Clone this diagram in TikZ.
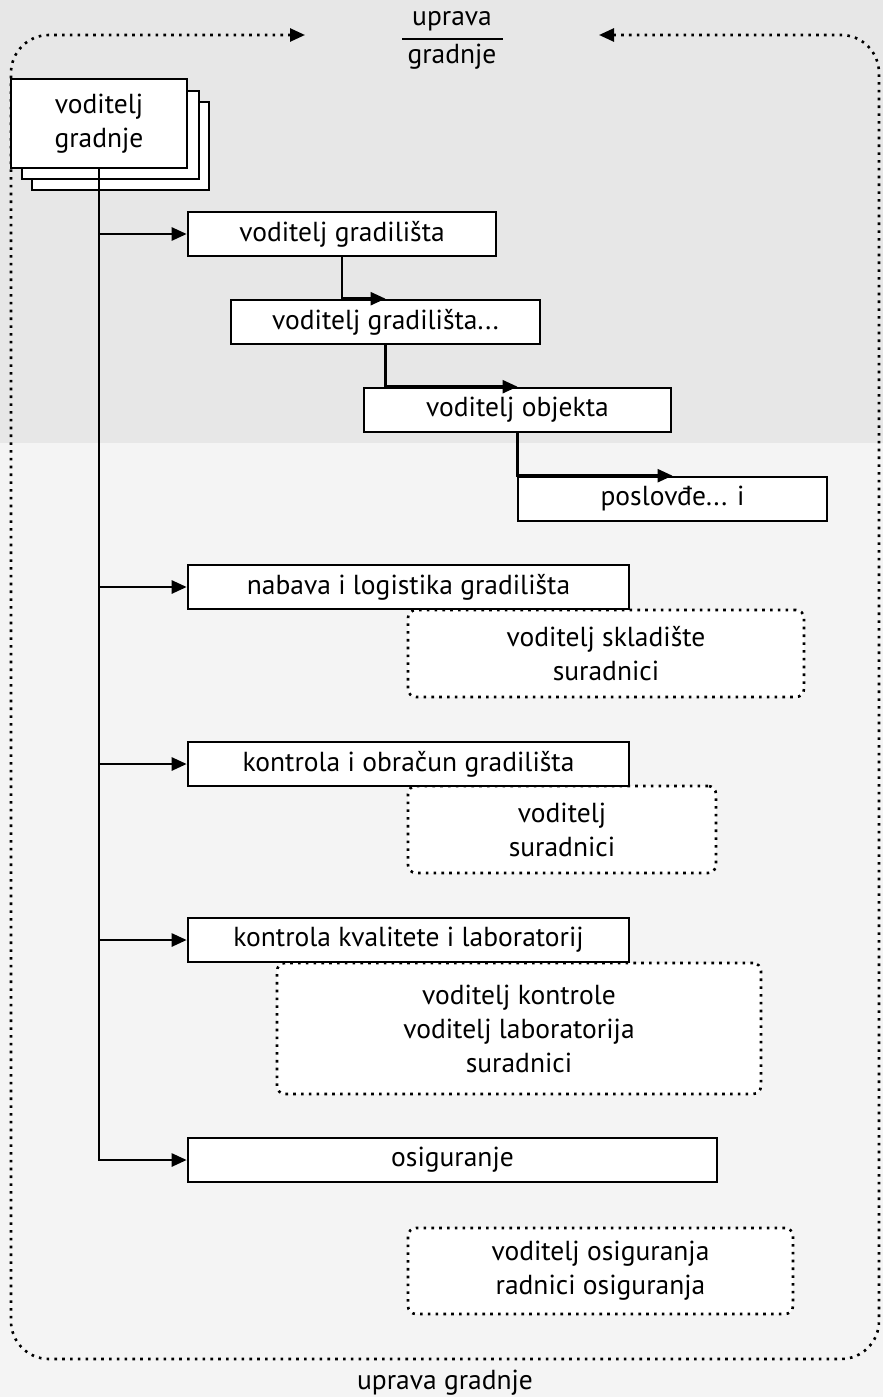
\documentclass[tikz,border=0pt]{standalone}
\usepackage{fontspec}
\setmainfont{PT Sans}
\usetikzlibrary{arrows.meta}
\definecolor{bgtop}{HTML}{E7E7E7}
\definecolor{bgbot}{HTML}{F4F4F4}
\begin{document}
\begin{tikzpicture}[x=1pt,y=-1pt,
  txt/.style={font=\fontsize{27.5}{34}\selectfont, text=black, align=center},
  solidbox/.style={txt, draw=black, line width=2.6pt, fill=white, inner sep=0pt, minimum height=44pt},
  dotbox/.style={txt, draw=black, line width=2.6pt, fill=white, inner sep=0pt,
    rounded corners=8pt, dash pattern=on 2.6pt off 5.2pt},
  tip/.style={-{Triangle[length=15pt,width=13pt]}},
  conn/.style={draw=black, line width=2.6pt, tip},
  frame/.style={draw=black, line width=2.6pt, dash pattern=on 2.6pt off 5.2pt,
    rounded corners=38pt, {Triangle[length=15pt,width=13pt]}-{Triangle[length=15pt,width=13pt]}}]

% page and background tones
\useasboundingbox (0,0) rectangle (883,1397);
\fill[bgtop] (0,0) rectangle (883,443);
\fill[bgbot] (0,443) rectangle (883,1397);

% outer management frame
\draw[frame] (599,35) -- (879,35) -- (879,1359) -- (11,1359) -- (11,35) -- (305,35);
\node[txt] (upr) at (452,21) {uprava};
\node[txt] (grdl) at (452,57) {gradnje};
\draw[line width=2pt] (402,39) -- (503,39);
\node[txt] (bot) at (445,1383) {uprava gradnje};

% stacked head box
\node[solidbox, minimum width=177pt, minimum height=88pt] (st3) at (120.5,146) {};
\node[solidbox, minimum width=177pt, minimum height=88pt] (st2) at (110.5,135) {};
\node[solidbox, minimum width=176pt, minimum height=89pt] (vg) at (99,123.5) {voditelj\\gradnje};

% dotted staff boxes
\node[dotbox, minimum width=396pt, minimum height=87pt] (d1) at (606,653.5) {voditelj skladište\\suradnici};
\node[dotbox, minimum width=308pt, minimum height=87pt] (d2) at (562,829.5) {voditelj\\suradnici};
\node[dotbox, minimum width=484pt, minimum height=131pt] (d3) at (519,1028.5) {voditelj kontrole\\voditelj laboratorija\\suradnici};
\node[dotbox, minimum width=385pt, minimum height=86pt] (d4) at (600.5,1271) {voditelj osiguranja\\radnici osiguranja};

% functional boxes
\node[solidbox, minimum width=308pt] (vgr) at (342,234) {voditelj gradilišta};
\node[solidbox, minimum width=309pt] (vgr2) at (385.5,322) {voditelj gradilišta...};
\node[solidbox, minimum width=307pt] (vobj) at (517.5,410) {voditelj objekta};
\node[solidbox, minimum width=309pt] (posl) at (672.5,499) {poslovđe... i};
\node[solidbox, minimum width=441pt] (nab) at (408.5,587) {nabava i logistika gradilišta};
\node[solidbox, minimum width=441pt] (kob) at (408.5,764) {kontrola i obračun gradilišta};
\node[solidbox, minimum width=441pt] (kkl) at (408.5,940) {kontrola kvalitete i laboratorij};
\node[solidbox, minimum width=529pt] (osig) at (452.5,1160) {osiguranje};

% trunk and branches
\draw[conn] (vg.south) |- (osig.west);
\draw[conn] (vg.south |- vgr.west) -- (vgr.west);
\draw[conn] (vg.south |- nab.west) -- (nab.west);
\draw[conn] (vg.south |- kob.west) -- (kob.west);
\draw[conn] (vg.south |- kkl.west) -- (kkl.west);

% cascade of site managers
\draw[conn] (vgr.south) |- (vgr2.north);
\draw[conn] (vgr2.south) |- (vobj.north);
\draw[conn] (vobj.south) |- (posl.north);
\end{tikzpicture}
\end{document}
